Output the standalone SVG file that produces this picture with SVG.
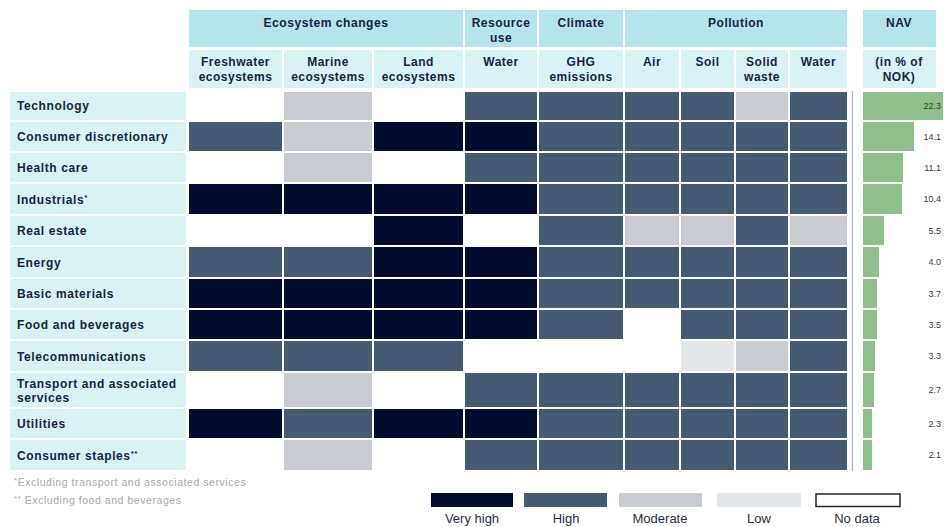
<svg xmlns="http://www.w3.org/2000/svg" width="944" height="527" viewBox="0 0 944 527">
<style>
.vh{fill:#020b30}.hi{fill:#475a74}.mo{fill:#c9cdd3}.lo{fill:#e4e7ea}
.h1{fill:#b3e5eb}.h2{fill:#d8f2f5}.lb{fill:#dbf2f5}.bar{fill:#8fc08c}
text{font-family:"Liberation Sans",Arial,sans-serif}
.lab{font-weight:bold;font-size:12px;fill:#18243f;letter-spacing:0.6px}
.hd{font-weight:bold;font-size:12px;fill:#18243f;letter-spacing:0.5px;text-anchor:middle}
.nav{font-size:9px;fill:#3a3a3a;text-anchor:end}
.leg{font-size:13px;fill:#2a2f3a;text-anchor:middle}
.fn{font-size:10.5px;fill:#a5a9ae;letter-spacing:0.55px}
.sup{font-size:8px}
</style>
<rect width="944" height="527" fill="#ffffff"/>

<g id="header">
  <rect class="h1" x="189" y="10" width="274" height="37"/>
  <rect class="h1" x="465" y="10" width="72" height="37"/>
  <rect class="h1" x="539" y="10" width="84" height="37"/>
  <rect class="h1" x="625" y="10" width="222" height="37"/>
  <rect class="h1" x="863" y="10" width="73" height="37"/>
  <text class="hd" x="326" y="27" textLength="125" lengthAdjust="spacingAndGlyphs">Ecosystem changes</text>
  <text class="hd" x="501" y="27">Resource</text>
  <text class="hd" x="501" y="42">use</text>
  <text class="hd" x="581" y="27">Climate</text>
  <text class="hd" x="736" y="27">Pollution</text>
  <text class="hd" x="899" y="27">NAV</text>

  <rect class="h2" x="189" y="50" width="93" height="38"/>
  <rect class="h2" x="284" y="50" width="88" height="38"/>
  <rect class="h2" x="374" y="50" width="89" height="38"/>
  <rect class="h2" x="465" y="50" width="72" height="38"/>
  <rect class="h2" x="539" y="50" width="84" height="38"/>
  <rect class="h2" x="625" y="50" width="54" height="38"/>
  <rect class="h2" x="681" y="50" width="53" height="38"/>
  <rect class="h2" x="736" y="50" width="52" height="38"/>
  <rect class="h2" x="790" y="50" width="57" height="38"/>
  <rect class="h2" x="863" y="50" width="73" height="38"/>
  <text class="hd" x="235.5" y="66">Freshwater</text>
  <text class="hd" x="235.5" y="81">ecosystems</text>
  <text class="hd" x="328" y="66">Marine</text>
  <text class="hd" x="328" y="81">ecosystems</text>
  <text class="hd" x="418.5" y="66">Land</text>
  <text class="hd" x="418.5" y="81">ecosystems</text>
  <text class="hd" x="501" y="66">Water</text>
  <text class="hd" x="581" y="66">GHG</text>
  <text class="hd" x="581" y="81">emissions</text>
  <text class="hd" x="652" y="66">Air</text>
  <text class="hd" x="707.5" y="66">Soil</text>
  <text class="hd" x="762" y="66">Solid</text>
  <text class="hd" x="762" y="81">waste</text>
  <text class="hd" x="818.5" y="66">Water</text>
  <text class="hd" x="899" y="66">(in % of</text>
  <text class="hd" x="899" y="81">NOK)</text>
</g>

<g id="row-technology">
  <rect class="lb" x="10" y="92" width="176" height="28"/>
  <text class="lab" x="17" y="110">Technology</text>
  <rect class="mo" x="284" y="92" width="88" height="28"/>
  <rect class="hi" x="465" y="92" width="72" height="28"/>
  <rect class="hi" x="539" y="92" width="84" height="28"/>
  <rect class="hi" x="625" y="92" width="54" height="28"/>
  <rect class="hi" x="681" y="92" width="53" height="28"/>
  <rect class="mo" x="736" y="92" width="52" height="28"/>
  <rect class="hi" x="790" y="92" width="57" height="28"/>
  <rect class="bar" x="863" y="92" width="80" height="28"/>
  <text class="nav" x="941" y="109">22.3</text>
</g>

<g id="row-consumer-discretionary">
  <rect class="lb" x="10" y="122" width="176" height="29"/>
  <text class="lab" x="17" y="141">Consumer discretionary</text>
  <rect class="hi" x="189" y="122" width="93" height="29"/>
  <rect class="mo" x="284" y="122" width="88" height="29"/>
  <rect class="vh" x="374" y="122" width="89" height="29"/>
  <rect class="vh" x="465" y="122" width="72" height="29"/>
  <rect class="hi" x="539" y="122" width="84" height="29"/>
  <rect class="hi" x="625" y="122" width="54" height="29"/>
  <rect class="hi" x="681" y="122" width="53" height="29"/>
  <rect class="hi" x="736" y="122" width="52" height="29"/>
  <rect class="hi" x="790" y="122" width="57" height="29"/>
  <rect class="bar" x="863" y="122" width="51" height="29"/>
  <text class="nav" x="941" y="139.5">14.1</text>
</g>

<g id="row-health-care">
  <rect class="lb" x="10" y="153" width="176" height="29"/>
  <text class="lab" x="17" y="172">Health care</text>
  <rect class="mo" x="284" y="153" width="88" height="29"/>
  <rect class="hi" x="465" y="153" width="72" height="29"/>
  <rect class="hi" x="539" y="153" width="84" height="29"/>
  <rect class="hi" x="625" y="153" width="54" height="29"/>
  <rect class="hi" x="681" y="153" width="53" height="29"/>
  <rect class="hi" x="736" y="153" width="52" height="29"/>
  <rect class="hi" x="790" y="153" width="57" height="29"/>
  <rect class="bar" x="863" y="153" width="40" height="29"/>
  <text class="nav" x="941" y="170.5">11.1</text>
</g>

<g id="row-industrials">
  <rect class="lb" x="10" y="184" width="176" height="30"/>
  <text class="lab" x="17" y="203.5">Industrials<tspan class="sup" dy="-4">*</tspan></text>
  <rect class="vh" x="189" y="184" width="93" height="30"/>
  <rect class="vh" x="284" y="184" width="88" height="30"/>
  <rect class="vh" x="374" y="184" width="89" height="30"/>
  <rect class="vh" x="465" y="184" width="72" height="30"/>
  <rect class="hi" x="539" y="184" width="84" height="30"/>
  <rect class="hi" x="625" y="184" width="54" height="30"/>
  <rect class="hi" x="681" y="184" width="53" height="30"/>
  <rect class="hi" x="736" y="184" width="52" height="30"/>
  <rect class="hi" x="790" y="184" width="57" height="30"/>
  <rect class="bar" x="863" y="184" width="39" height="30"/>
  <text class="nav" x="941" y="202">10.4</text>
</g>

<g id="row-real-estate">
  <rect class="lb" x="10" y="216" width="176" height="29"/>
  <text class="lab" x="17" y="235">Real estate</text>
  <rect class="vh" x="374" y="216" width="89" height="29"/>
  <rect class="hi" x="539" y="216" width="84" height="29"/>
  <rect class="mo" x="625" y="216" width="54" height="29"/>
  <rect class="mo" x="681" y="216" width="53" height="29"/>
  <rect class="hi" x="736" y="216" width="52" height="29"/>
  <rect class="mo" x="790" y="216" width="57" height="29"/>
  <rect class="bar" x="863" y="216" width="21" height="29"/>
  <text class="nav" x="941" y="233.5">5.5</text>
</g>

<g id="row-energy">
  <rect class="lb" x="10" y="247" width="176" height="30"/>
  <text class="lab" x="17" y="266.5">Energy</text>
  <rect class="hi" x="189" y="247" width="93" height="30"/>
  <rect class="hi" x="284" y="247" width="88" height="30"/>
  <rect class="vh" x="374" y="247" width="89" height="30"/>
  <rect class="vh" x="465" y="247" width="72" height="30"/>
  <rect class="hi" x="539" y="247" width="84" height="30"/>
  <rect class="hi" x="625" y="247" width="54" height="30"/>
  <rect class="hi" x="681" y="247" width="53" height="30"/>
  <rect class="hi" x="736" y="247" width="52" height="30"/>
  <rect class="hi" x="790" y="247" width="57" height="30"/>
  <rect class="bar" x="863" y="247" width="16" height="30"/>
  <text class="nav" x="941" y="265">4.0</text>
</g>

<g id="row-basic-materials">
  <rect class="lb" x="10" y="279" width="176" height="29"/>
  <text class="lab" x="17" y="298">Basic materials</text>
  <rect class="vh" x="189" y="279" width="93" height="29"/>
  <rect class="vh" x="284" y="279" width="88" height="29"/>
  <rect class="vh" x="374" y="279" width="89" height="29"/>
  <rect class="vh" x="465" y="279" width="72" height="29"/>
  <rect class="hi" x="539" y="279" width="84" height="29"/>
  <rect class="hi" x="625" y="279" width="54" height="29"/>
  <rect class="hi" x="681" y="279" width="53" height="29"/>
  <rect class="hi" x="736" y="279" width="52" height="29"/>
  <rect class="hi" x="790" y="279" width="57" height="29"/>
  <rect class="bar" x="863" y="279" width="14" height="29"/>
  <text class="nav" x="941" y="296.5">3.7</text>
</g>

<g id="row-food-and-beverages">
  <rect class="lb" x="10" y="310" width="176" height="29"/>
  <text class="lab" x="17" y="329">Food and beverages</text>
  <rect class="vh" x="189" y="310" width="93" height="29"/>
  <rect class="vh" x="284" y="310" width="88" height="29"/>
  <rect class="vh" x="374" y="310" width="89" height="29"/>
  <rect class="vh" x="465" y="310" width="72" height="29"/>
  <rect class="hi" x="539" y="310" width="84" height="29"/>
  <rect class="hi" x="681" y="310" width="53" height="29"/>
  <rect class="hi" x="736" y="310" width="52" height="29"/>
  <rect class="hi" x="790" y="310" width="57" height="29"/>
  <rect class="bar" x="863" y="310" width="14" height="29"/>
  <text class="nav" x="941" y="327.5">3.5</text>
</g>

<g id="row-telecommunications">
  <rect class="lb" x="10" y="341" width="176" height="30"/>
  <text class="lab" x="17" y="360.5">Telecommunications</text>
  <rect class="hi" x="189" y="341" width="93" height="30"/>
  <rect class="hi" x="284" y="341" width="88" height="30"/>
  <rect class="hi" x="374" y="341" width="89" height="30"/>
  <rect class="lo" x="681" y="341" width="53" height="30"/>
  <rect class="mo" x="736" y="341" width="52" height="30"/>
  <rect class="hi" x="790" y="341" width="57" height="30"/>
  <rect class="bar" x="863" y="341" width="12" height="30"/>
  <text class="nav" x="941" y="359">3.3</text>
</g>

<g id="row-transport">
  <rect class="lb" x="10" y="373" width="176" height="34"/>
  <text class="lab" x="17" y="388">Transport and associated</text>
  <text class="lab" x="17" y="402">services</text>
  <rect class="mo" x="284" y="373" width="88" height="34"/>
  <rect class="hi" x="465" y="373" width="72" height="34"/>
  <rect class="hi" x="539" y="373" width="84" height="34"/>
  <rect class="hi" x="625" y="373" width="54" height="34"/>
  <rect class="hi" x="681" y="373" width="53" height="34"/>
  <rect class="hi" x="736" y="373" width="52" height="34"/>
  <rect class="hi" x="790" y="373" width="57" height="34"/>
  <rect class="bar" x="863" y="373" width="11" height="34"/>
  <text class="nav" x="941" y="393">2.7</text>
</g>

<g id="row-utilities">
  <rect class="lb" x="10" y="409" width="176" height="29"/>
  <text class="lab" x="17" y="428">Utilities</text>
  <rect class="vh" x="189" y="409" width="93" height="29"/>
  <rect class="hi" x="284" y="409" width="88" height="29"/>
  <rect class="vh" x="374" y="409" width="89" height="29"/>
  <rect class="vh" x="465" y="409" width="72" height="29"/>
  <rect class="hi" x="539" y="409" width="84" height="29"/>
  <rect class="hi" x="625" y="409" width="54" height="29"/>
  <rect class="hi" x="681" y="409" width="53" height="29"/>
  <rect class="hi" x="736" y="409" width="52" height="29"/>
  <rect class="hi" x="790" y="409" width="57" height="29"/>
  <rect class="bar" x="863" y="409" width="9" height="29"/>
  <text class="nav" x="941" y="426.5">2.3</text>
</g>

<g id="row-consumer-staples">
  <rect class="lb" x="10" y="440" width="176" height="30"/>
  <text class="lab" x="17" y="459.5">Consumer staples<tspan class="sup" dy="-4">**</tspan></text>
  <rect class="mo" x="284" y="440" width="88" height="30"/>
  <rect class="hi" x="465" y="440" width="72" height="30"/>
  <rect class="hi" x="539" y="440" width="84" height="30"/>
  <rect class="hi" x="625" y="440" width="54" height="30"/>
  <rect class="hi" x="681" y="440" width="53" height="30"/>
  <rect class="hi" x="736" y="440" width="52" height="30"/>
  <rect class="hi" x="790" y="440" width="57" height="30"/>
  <rect class="bar" x="863" y="440" width="9" height="30"/>
  <text class="nav" x="941" y="458">2.1</text>
</g>

<g id="connectors">
  <line x1="852.5" y1="91" x2="852.5" y2="471" stroke="#a3b3c8" stroke-width="1.2"/>
</g>

<g id="footnotes">
  <text class="fn" x="14" y="486"><tspan class="sup" dy="-3">*</tspan><tspan dy="3">Excluding transport and associated services</tspan></text>
  <text class="fn" x="14" y="504"><tspan class="sup" dy="-3">**</tspan><tspan dy="3"> Excluding food and beverages</tspan></text>
</g>

<g id="legend">
  <rect class="vh" x="431" y="493" width="82" height="14"/>
  <rect class="hi" x="524" y="493" width="83" height="14"/>
  <rect class="mo" x="619" y="493" width="83" height="14"/>
  <rect class="lo" x="717" y="493" width="84" height="14"/>
  <rect x="816" y="494" width="84" height="12.5" fill="#ffffff" stroke="#1b2540" stroke-width="1.5"/>
  <text class="leg" x="472" y="523">Very high</text>
  <text class="leg" x="566" y="523">High</text>
  <text class="leg" x="660" y="523">Moderate</text>
  <text class="leg" x="759" y="523">Low</text>
  <text class="leg" x="857" y="523">No data</text>
</g>
</svg>
